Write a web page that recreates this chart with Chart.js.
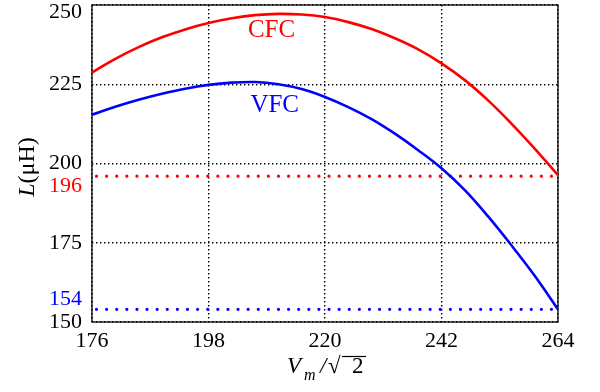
<!DOCTYPE html>
<html><head><meta charset="utf-8">
<script src="https://cdn.jsdelivr.net/npm/chart.js@4"></script>
<style>html,body{margin:0;padding:0;background:#fff;}#wrap{width:600px;height:392px;}</style>
</head><body><div id="wrap"><canvas id="c" width="600" height="392"></canvas></div>
<script>
// ---- data ----
const xTicks = [176, 198, 220, 242, 264];
const yTicks = [150, 175, 200, 225, 250];
const vAxis = [176, 180.4, 184.8, 189.2, 193.6, 198, 202.4, 206.8, 211.2, 215.6, 220, 224.4, 228.8, 233.2, 237.6, 242, 246.4, 250.8, 255.2, 259.6, 264];
const cfcL = [228.7, 233.0, 236.7, 239.8, 242.3, 244.3, 245.8, 246.8, 247.2, 247.0, 246.2, 244.6, 242.4, 239.5, 236.0, 231.6, 226.3, 219.9, 212.6, 204.7, 196.3];
const vfcL = [215.4, 217.9, 220.1, 222.0, 223.6, 224.8, 225.5, 225.7, 225.0, 223.5, 221.0, 217.8, 214.0, 209.4, 204.2, 198.5, 191.6, 183.3, 174.2, 164.6, 154.0];
const refCFC = 196;
const refVFC = 154;
const seriesNames = ['CFC', 'VFC'];

const RED = 'rgb(255,0,0)', BLUE = 'rgb(0,0,255)';
const FONT = '"Liberation Serif", "Times New Roman", serif';

const pts = (xs, ys) => xs.map((v, i) => ({x: v, y: ys[i]}));

const overlay = {
  id: 'overlay',
  beforeDatasetsDraw(chart) {
    const {ctx, chartArea: a} = chart;
    ctx.save();
    ctx.strokeStyle = '#000';
    ctx.lineWidth = 1.3;
    ctx.strokeRect(a.left, a.top, a.right - a.left, a.bottom - a.top);
    ctx.restore();
  },
  afterDraw(chart) {
    const {ctx, chartArea: a, scales: {x, y}} = chart;
    ctx.save();
    ctx.font = '22px ' + FONT;
    ctx.textAlign = 'right';
    ctx.textBaseline = 'middle';
    ctx.fillStyle = '#000';
    ctx.fillText('250', a.left - 10, y.getPixelForValue(250) + 7);
    ctx.fillStyle = RED;
    ctx.fillText(String(refCFC), a.left - 10, y.getPixelForValue(refCFC) + 10);
    ctx.fillStyle = BLUE;
    ctx.fillText(String(refVFC), a.left - 10, y.getPixelForValue(refVFC) - 10);

    // series labels
    ctx.font = '25px ' + FONT;
    ctx.textAlign = 'center';
    ctx.fillStyle = RED;
    ctx.fillText(seriesNames[0], x.getPixelForValue(209.9), y.getPixelForValue(241.9));
    ctx.fillStyle = BLUE;
    ctx.fillText(seriesNames[1], x.getPixelForValue(210.5), y.getPixelForValue(218.4));

    // y axis title: L(μH)
    ctx.fillStyle = '#000';
    ctx.save();
    ctx.translate(28, 167);
    ctx.rotate(-Math.PI / 2);
    ctx.textBaseline = 'middle';
    ctx.textAlign = 'left';
    ctx.font = 'italic 24px ' + FONT;
    const wL = ctx.measureText('L').width;
    ctx.font = '24px ' + FONT;
    const wR = ctx.measureText('(μH)').width;
    const tot = wL + wR;
    ctx.font = 'italic 24px ' + FONT;
    ctx.fillText('L', -tot / 2, 0);
    ctx.font = '24px ' + FONT;
    ctx.fillText('(μH)', -tot / 2 + wL, 0);
    ctx.restore();

    // x axis title: V_m /√2
    ctx.textAlign = 'left';
    ctx.textBaseline = 'alphabetic';
    const x0 = 288, base = 373;
    ctx.font = 'italic 23px ' + FONT;
    ctx.fillText('V', x0 - 1, base);
    ctx.font = 'italic 16px ' + FONT;
    ctx.fillText('m', x0 + 16, base + 7);
    ctx.font = 'italic 23px ' + FONT;
    ctx.fillText('/', x0 + 32, base);
    ctx.font = '23px ' + FONT;
    ctx.fillText('√', x0 + 40, base);
    ctx.fillText('2', x0 + 64, base);
    ctx.lineWidth = 1.2;
    ctx.beginPath();
    ctx.moveTo(x0 + 54, base - 16.5);
    ctx.lineTo(x0 + 78, base - 16.5);
    ctx.stroke();
    ctx.restore();
  }
};

new Chart(document.getElementById('c'), {
  type: 'line',
  data: {
    datasets: [
      {label: seriesNames[0], data: pts(vAxis, cfcL), borderColor: RED, borderWidth: 2.6, pointRadius: 0, tension: 0.4, fill: false},
      {label: seriesNames[1], data: pts(vAxis, vfcL), borderColor: BLUE, borderWidth: 2.6, pointRadius: 0, tension: 0.4, fill: false},
      {label: 'ref' + refCFC, data: [{x: xTicks[0], y: refCFC}, {x: xTicks[xTicks.length - 1], y: refCFC}], borderColor: RED, borderWidth: 3.2, borderDash: [0.01, 10.1], borderDashOffset: -4.5, borderCapStyle: 'round', pointRadius: 0},
      {label: 'ref' + refVFC, data: [{x: xTicks[0], y: refVFC}, {x: xTicks[xTicks.length - 1], y: refVFC}], borderColor: BLUE, borderWidth: 3.2, borderDash: [0.01, 10.1], borderDashOffset: -4.5, borderCapStyle: 'round', pointRadius: 0}
    ]
  },
  options: {
    responsive: false,
    animation: false,
    devicePixelRatio: 1,
    layout: {padding: {left: 0, top: 5, right: 42, bottom: 0}},
    plugins: {legend: {display: false}, tooltip: {enabled: false}},
    scales: {
      x: {
        type: 'linear', min: xTicks[0], max: xTicks[xTicks.length - 1],
        afterBuildTicks: s => { s.ticks = xTicks.map(v => ({value: v})); },
        afterFit: s => { s.height = 70; s.paddingLeft = 0; s.paddingRight = 0; },
        grid: {color: '#000', lineWidth: 1.4, drawTicks: false},
        border: {display: false, dash: [1.4, 2.6]},
        ticks: {color: '#000', font: {family: FONT, size: 22}, padding: 6, maxRotation: 0, autoSkip: false}
      },
      y: {
        type: 'linear', min: yTicks[0], max: yTicks[yTicks.length - 1],
        afterBuildTicks: s => { s.ticks = yTicks.map(v => ({value: v})); },
        afterFit: s => { s.width = 92; s.paddingTop = 0; s.paddingBottom = 0; },
        grid: {color: '#000', lineWidth: 1.4, drawTicks: false},
        border: {display: false, dash: [1.4, 2.6]},
        ticks: {color: '#000', font: {family: FONT, size: 22}, padding: 10, autoSkip: false,
                callback: v => (v === 250 ? '' : String(v))}
      }
    }
  },
  plugins: [overlay]
});
</script>
</body></html>
